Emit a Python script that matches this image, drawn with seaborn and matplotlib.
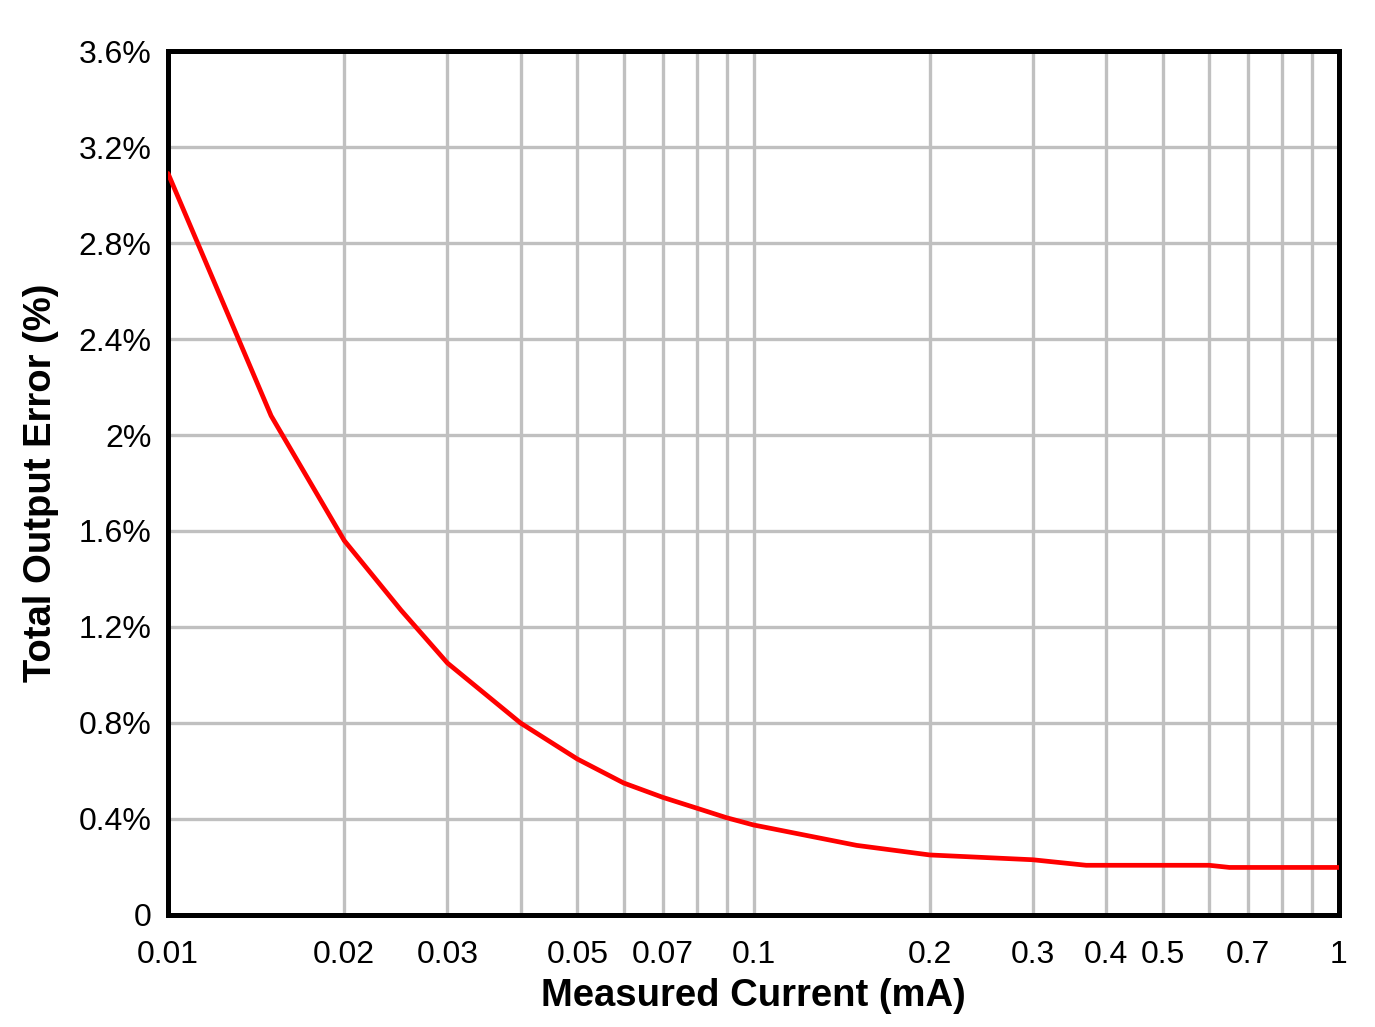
import matplotlib
matplotlib.use("Agg")
import matplotlib.pyplot as plt
import seaborn as sns
import pandas as pd
from matplotlib.ticker import FixedLocator, FixedFormatter, NullFormatter

current_ma = [0.01, 0.015, 0.02, 0.025, 0.03, 0.04, 0.05, 0.06, 0.07, 0.08, 0.09,
              0.1, 0.15, 0.2, 0.3, 0.37, 0.6, 0.65, 1.0]
error_pct = [3.09, 2.08, 1.56, 1.27, 1.05, 0.80, 0.65, 0.55, 0.49, 0.445, 0.405,
             0.375, 0.29, 0.25, 0.23, 0.207, 0.207, 0.198, 0.198]

x_ticks = [0.01, 0.02, 0.03, 0.05, 0.07, 0.1, 0.2, 0.3, 0.4, 0.5, 0.7, 1]
x_tick_labels = ["0.01", "0.02", "0.03", "0.05", "0.07", "0.1", "0.2", "0.3", "0.4", "0.5", "0.7", "1"]
x_grid = [0.02, 0.03, 0.04, 0.05, 0.06, 0.07, 0.08, 0.09, 0.1,
          0.2, 0.3, 0.4, 0.5, 0.6, 0.7, 0.8, 0.9]
y_ticks = [0, 0.4, 0.8, 1.2, 1.6, 2.0, 2.4, 2.8, 3.2, 3.6]
y_tick_labels = ["0", "0.4%", "0.8%", "1.2%", "1.6%", "2%", "2.4%", "2.8%", "3.2%", "3.6%"]

sns.set_style("white")
plt.rcParams['font.family'] = ['Liberation Sans', 'DejaVu Sans']
plt.rcParams['text.color'] = 'black'
plt.rcParams['axes.labelcolor'] = 'black'
plt.rcParams['xtick.color'] = 'black'
plt.rcParams['ytick.color'] = 'black'

df = pd.DataFrame({"current": current_ma, "error": error_pct})

fig = plt.figure(figsize=(13.75, 10.27), dpi=100)
ax = fig.add_axes([0.1222, 0.1091, 0.8516, 0.8412])

ax.set_xscale("log")
ax.set_xlim(0.01, 1)
ax.set_ylim(0, 3.6)

for gx in x_grid:
    ax.axvline(gx, color="#c0c0c0", lw=2.4, zorder=0)
for gy in y_ticks[1:-1]:
    ax.axhline(gy, color="#c0c0c0", lw=2.4, zorder=0)

sns.lineplot(data=df, x="current", y="error", ax=ax, color="#ff0000", lw=3.4, zorder=3)

ax.xaxis.set_major_locator(FixedLocator(x_ticks))
ax.xaxis.set_major_formatter(FixedFormatter(x_tick_labels))
ax.xaxis.set_minor_locator(FixedLocator([]))
ax.xaxis.set_minor_formatter(NullFormatter())
ax.set_yticks(y_ticks)
ax.set_yticklabels(y_tick_labels)

ax.tick_params(axis="both", which="both", length=0, labelsize=23, colors="black")
ax.tick_params(axis="x", pad=18)
ax.tick_params(axis="y", pad=12)

for s in ax.spines.values():
    s.set_visible(True)
    s.set_color("black")
    s.set_linewidth(3.6)

ax.set_xlabel("Measured Current (mA)", fontsize=27.5, fontweight="bold", labelpad=6, color="black")
ax.set_ylabel("Total Output Error (%)", fontsize=27.5, fontweight="bold", labelpad=14, color="black")

fig.savefig("out.png", dpi=100)
